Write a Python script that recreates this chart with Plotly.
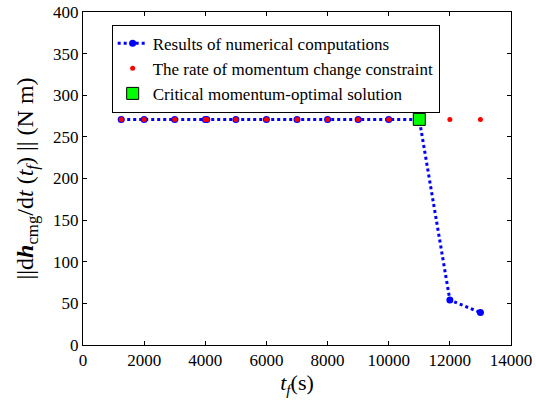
import plotly.graph_objects as go

# Final time t_f (s)
tf_numeric = [1250, 2000, 3000, 4000, 4050, 5000, 6000, 7000, 8000, 9000, 10000, 11000, 12000, 13000]
# Norm of momentum-rate at t_f (N m) from numerical computations
rate_numeric = [271, 271, 271, 271, 271, 271, 271, 271, 271, 271, 271, 271, 54, 39]

# Rate-of-momentum-change constraint
tf_constraint = [1250, 2000, 3000, 4000, 4050, 5000, 6000, 7000, 8000, 9000, 10000, 11000, 12000, 13000]
rate_constraint = [271, 271, 271, 271, 271, 271, 271, 271, 271, 271, 271, 271, 271, 271]

# Critical momentum-optimal solution
tf_critical = [11000]
rate_critical = [271]

# Axis ticks
x_ticks = [0, 2000, 4000, 6000, 8000, 10000, 12000, 14000]
x_ticklabels = ["0", "2000", "4000", "6000", "8000", "10000", "12000", "14000"]
y_ticks = [0, 50, 100, 150, 200, 250, 300, 350, 400]
y_ticklabels = ["0", "50", "100", "150", "200", "250", "300", "350", "400"]

FONT = "Liberation Serif"

fig = go.Figure()
fig.add_trace(go.Scatter(
    x=tf_numeric, y=rate_numeric, mode="lines+markers",
    name="Results of numerical computations",
    line=dict(color="#0000ff", width=3, dash="dot"),
    marker=dict(color="#0000ff", size=7, symbol="circle"),
))
fig.add_trace(go.Scatter(
    x=tf_constraint, y=rate_constraint, mode="markers",
    name="The rate of momentum change constraint",
    marker=dict(color="#ff0000", size=5, symbol="circle"),
))
fig.add_trace(go.Scatter(
    x=tf_critical, y=rate_critical, mode="markers",
    name="Critical momentum-optimal solution",
    marker=dict(color="#00ff00", size=12, symbol="square",
                line=dict(color="#000000", width=1)),
))

axis_common = dict(
    showgrid=False, zeroline=False, showline=True, linecolor="black", linewidth=1,
    mirror="ticks", ticks="inside", ticklen=4, tickcolor="black",
    tickmode="array", automargin=False,
    tickfont=dict(family=FONT, size=17, color="black"),
)

fig.update_layout(
    width=536, height=410,
    margin=dict(l=83, r=25, t=12, b=65),
    paper_bgcolor="white", plot_bgcolor="white",
    font=dict(family=FONT, color="black"),
    showlegend=True,
    legend=dict(
        x=0.067, y=0.962, xanchor="left", yanchor="top",
        bgcolor="white", bordercolor="black", borderwidth=1,
        font=dict(family=FONT, size=17, color="black"),
        tracegroupgap=0, itemwidth=30,
    ),
    xaxis=dict(
        range=[0, 14000], tickvals=x_ticks, ticktext=x_ticklabels,
        title=dict(text="<i>t</i><sub><i>f</i></sub>(s)", font=dict(family=FONT, size=22), standoff=2),
        **axis_common,
    ),
    yaxis=dict(
        range=[0, 400], tickvals=y_ticks, ticktext=y_ticklabels,
        title=dict(
            text="||d<b><i>h</i></b><sub>cmg</sub>/d<i>t</i> (<i>t</i><sub><i>f</i></sub>) || (N m)",
            font=dict(family=FONT, size=24), standoff=12,
        ),
        **axis_common,
    ),
)

fig.write_html("out.html")
